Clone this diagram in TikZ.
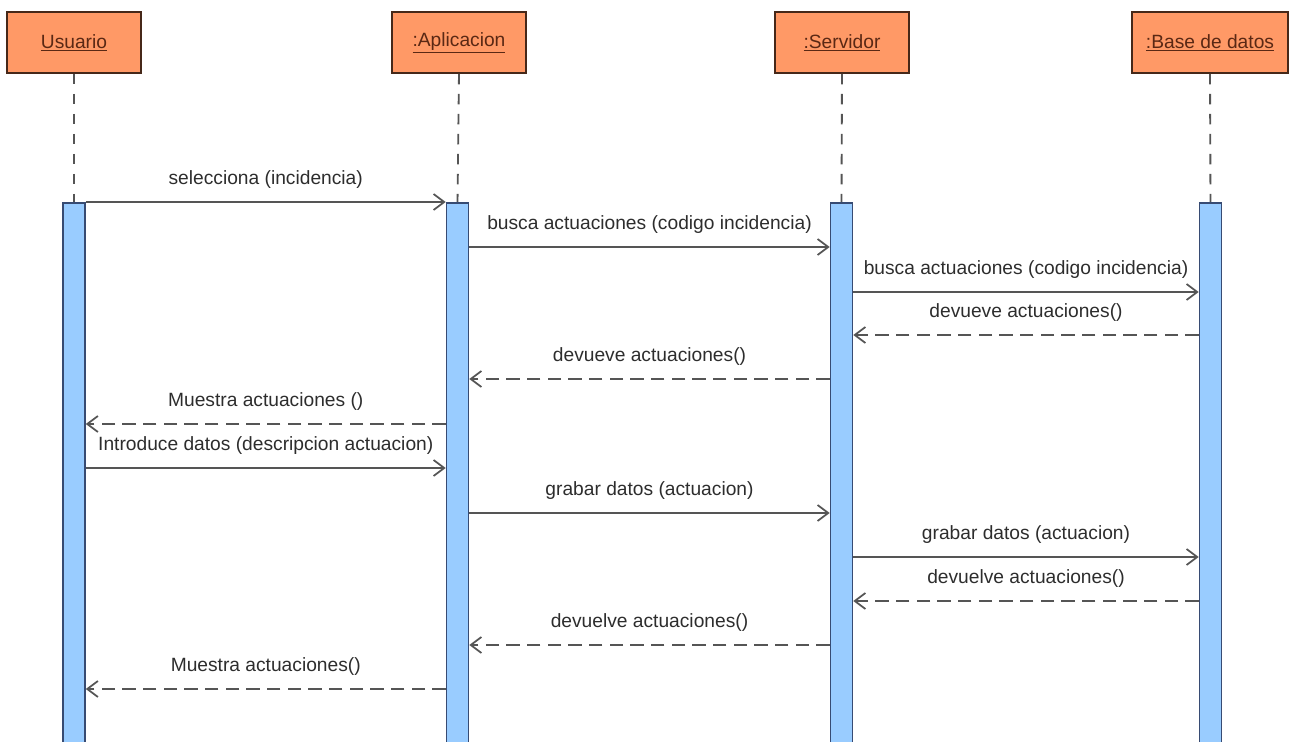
\documentclass[tikz,border=0pt]{standalone}
\usepackage{fontspec}
\setmainfont{Liberation Sans}
\usetikzlibrary{arrows.meta}
\definecolor{hdrfill}{RGB}{255,153,102}
\definecolor{hdrline}{RGB}{70,40,25}
\definecolor{hdrtext}{RGB}{90,40,20}
\definecolor{barfill}{RGB}{153,204,255}
\definecolor{barline}{RGB}{55,75,115}
\definecolor{msgline}{RGB}{85,85,85}
\definecolor{lbltext}{RGB}{45,45,45}
\tikzset{
  hdr/.style={draw=hdrline, line width=1.2pt, fill=hdrfill, minimum height=45.75pt,
    inner sep=0pt, text=hdrtext, font=\fontsize{14.4}{17}\selectfont},
  actbar/.style={draw=barline, line width=1.2pt, fill=barfill, minimum width=16.5pt,
    minimum height=410pt, inner sep=0pt, anchor=north},
  life/.style={draw=msgline, line width=1.4pt, dash pattern=on 8pt off 7pt},
  msg/.style={draw=msgline, line width=1.3pt, -{Straight Barb[length=8pt,width=12pt]}},
  ret/.style={msg, dash pattern=on 10pt off 5.5pt},
  lbl/.style={anchor=base, yshift=13pt, inner sep=0pt, text=lbltext,
    font=\fontsize{14.4}{17}\selectfont}
}
\begin{document}
\begin{tikzpicture}[x=0.75pt, y=-0.75pt]
\useasboundingbox (0,0) rectangle (1290,742);

% participants
\node[hdr, minimum width=100.5pt] (hu) at (74,42.5) {\underline{Usuario}};
\node[hdr, minimum width=100.5pt] (ha) at (459,42.5) {\underline{:Aplicacion}};
\node[hdr, minimum width=100.5pt] (hs) at (842,42.5) {\underline{:Servidor}};
\node[hdr, minimum width=117pt] (hb) at (1210,42.5) {\underline{:Base de datos}};

% activation bars
\node[actbar] (bu) at (74,202) {};
\node[actbar] (ba) at (457.5,202) {};
\node[actbar] (bs) at (841.5,202) {};
\node[actbar] (bb) at (1210.5,202) {};

% lifelines
\draw[life] (hu.south) -- (bu.north);
\draw[life] (ha.south) -- (ba.north);
\draw[life] (hs.south) -- (bs.north);
\draw[life] (hb.south) -- (bb.north);

% messages
\draw[msg] (bu.east |- 0,202) -- node[lbl] {selecciona (incidencia)} (ba.west |- 0,202);
\draw[msg] (ba.east |- 0,247) -- node[lbl] {busca actuaciones (codigo incidencia)} (bs.west |- 0,247);
\draw[msg] (bs.east |- 0,292) -- node[lbl] {busca actuaciones (codigo incidencia)} (bb.west |- 0,292);
\draw[ret] (bb.west |- 0,335) -- node[lbl] {devueve actuaciones()} (bs.east |- 0,335);
\draw[ret] (bs.west |- 0,379) -- node[lbl] {devueve actuaciones()} (ba.east |- 0,379);
\draw[ret] (ba.west |- 0,424) -- node[lbl] {Muestra actuaciones ()} (bu.east |- 0,424);
\draw[msg] (bu.east |- 0,468) -- node[lbl] {Introduce datos (descripcion actuacion)} (ba.west |- 0,468);
\draw[msg] (ba.east |- 0,513) -- node[lbl] {grabar datos (actuacion)} (bs.west |- 0,513);
\draw[msg] (bs.east |- 0,557) -- node[lbl] {grabar datos (actuacion)} (bb.west |- 0,557);
\draw[ret] (bb.west |- 0,601) -- node[lbl] {devuelve actuaciones()} (bs.east |- 0,601);
\draw[ret] (bs.west |- 0,645) -- node[lbl] {devuelve actuaciones()} (ba.east |- 0,645);
\draw[ret] (ba.west |- 0,689) -- node[lbl] {Muestra actuaciones()} (bu.east |- 0,689);
\end{tikzpicture}
\end{document}
